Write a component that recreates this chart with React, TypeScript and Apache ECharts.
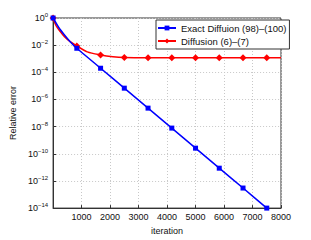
import React, { useEffect, useRef } from "react";
import * as echarts from "echarts";

const markerIter = [0, 833, 1667, 2500, 3333, 4167, 5000, 5833, 6667, 7500];

const exactIter = [0, 200, 400, 600, 833, 1667, 2500, 3333, 4167, 5000, 5833, 6667, 7500];
const exactErr = [1, 2.0e-1, 5.6e-2, 1.8e-2, 5.9e-3, 2.0e-4, 6.8e-6, 2.3e-7, 7.8e-9, 2.6e-10, 8.7e-12, 3.0e-13, 1.0e-14];

const diffIter = [0, 100, 250, 400, 600, 833, 1200, 1667, 2100, 2500, 3333, 4167, 5000, 5833, 6667, 7500, 8000];
const diffErr = [1, 2.8e-1, 1.0e-1, 4.2e-2, 1.8e-2, 8.7e-3, 3.2e-3, 1.9e-3, 1.4e-3, 1.22e-3, 1.17e-3, 1.17e-3, 1.17e-3, 1.17e-3, 1.17e-3, 1.17e-3, 1.17e-3];

const xTicks = [1000, 2000, 3000, 4000, 5000, 6000, 7000, 8000];
const yExponents = [0, -2, -4, -6, -8, -10, -12, -14];

const seriesNames = ["Exact Diffuion (98)\u2013(100)", "Diffusion (6)\u2013(7)"];

const FONT = "Liberation Sans, Arial, Helvetica, sans-serif";

function buildData(xs: number[], ys: number[], sym: string) {
  return xs.map((x, i) => ({
    value: [x, ys[i]],
    symbol: markerIter.includes(x) ? sym : "none",
  }));
}

export default function App() {
  const ref = useRef<HTMLDivElement>(null);
  useEffect(() => {
    if (!ref.current) return;
    const chart = echarts.init(ref.current, undefined, { renderer: "svg" });
    chart.setOption({
      animation: false,
      backgroundColor: "#fff",
      textStyle: { fontFamily: FONT },
      grid: {
        left: 40,
        right: 30,
        top: 18,
        bottom: 27,
        show: true,
        borderColor: "#333",
        borderWidth: 1,
        backgroundColor: "transparent",
      },
      legend: {
        orient: "vertical",
        left: 156,
        top: 20,
        itemWidth: 18,
        itemHeight: 6,
        itemGap: 3,
        padding: [3, 3, 3, 1],
        backgroundColor: "#fff",
        borderColor: "#333",
        borderWidth: 1,
        borderRadius: 0,
        textStyle: { fontSize: 9.5, color: "#111", fontFamily: FONT },
        data: seriesNames,
      },
      xAxis: {
        type: "value",
        min: 0,
        max: 8000,
        interval: 1000,
        name: "iteration",
        nameLocation: "middle",
        nameGap: 12,
        nameTextStyle: { fontSize: 9, color: "#111", fontFamily: FONT },
        axisLine: { show: true, lineStyle: { color: "#333", width: 1 } },
        axisTick: { show: true, inside: true, length: 3, lineStyle: { color: "#333" } },
        axisLabel: {
          fontSize: 9,
          color: "#111",
          margin: 4,
          formatter: (v: number) => (xTicks.includes(v) ? String(v) : ""),
        },
        splitLine: { show: true, lineStyle: { color: "#c8c8c8", type: [1, 2], width: 1 } },
      },
      yAxis: {
        type: "log",
        logBase: 10,
        min: 1e-14,
        max: 1,
        interval: 2,
        name: "Relative error",
        nameLocation: "middle",
        nameGap: 27,
        nameTextStyle: { fontSize: 9, color: "#111", fontFamily: FONT },
        axisLine: { show: true, lineStyle: { color: "#333", width: 1 } },
        axisTick: { show: true, inside: true, length: 3, lineStyle: { color: "#333" } },
        axisLabel: {
          fontSize: 9,
          color: "#111",
          margin: 5,
          formatter: (v: number) => {
            const e = Math.round(Math.log10(v));
            if (!yExponents.includes(e)) return "";
            const s = e < 0 ? "\u2212" + String(-e) : String(e);
            return "10{sup|" + s + "}";
          },
          rich: {
            sup: { fontSize: 6, verticalAlign: "bottom", padding: [0, 0, 6, 0], color: "#111" },
          },
        },
        splitLine: { show: true, lineStyle: { color: "#c8c8c8", type: [1, 2], width: 1 } },
        minorTick: { show: false },
      },
      series: [
        {
          name: seriesNames[0],
          type: "line",
          data: buildData(exactIter, exactErr, "rect"),
          symbol: "rect",
          symbolSize: 5,
          showSymbol: true,
          showAllSymbol: true,
          smooth: 0.2,
          itemStyle: { color: "#0000ff" },
          lineStyle: { color: "#0000ff", width: 1.5 },
          z: 3,
        },
        {
          name: seriesNames[1],
          type: "line",
          data: buildData(diffIter, diffErr, "diamond"),
          symbol: "diamond",
          symbolSize: 7,
          showSymbol: true,
          showAllSymbol: true,
          smooth: 0.3,
          itemStyle: { color: "#ff0000" },
          lineStyle: { color: "#ff0000", width: 1.5 },
          z: 2,
        },
      ],
    });
    return () => chart.dispose();
  }, []);
  return (
    <div
      ref={ref}
      style={{ position: "fixed", left: 0, top: 0, width: 311, height: 240 }}
    />
  );
}
